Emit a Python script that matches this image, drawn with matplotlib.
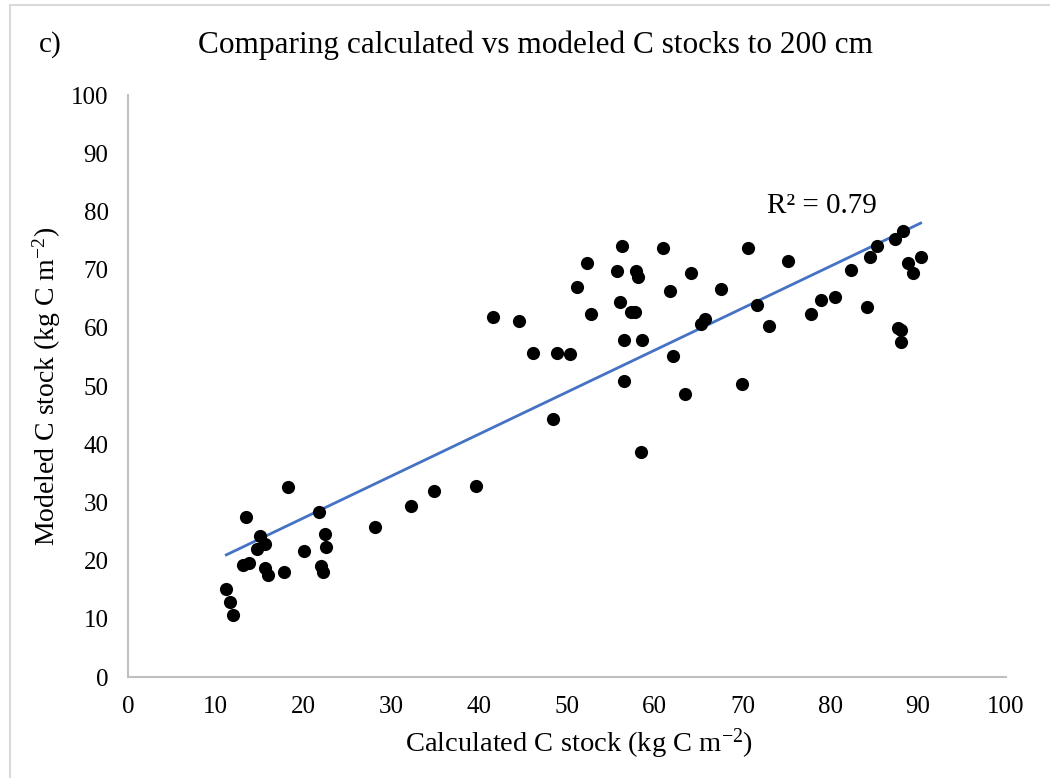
import matplotlib
matplotlib.use("Agg")
import matplotlib.pyplot as plt
import numpy as np
from matplotlib.patches import Rectangle

plt.rcParams['font.family'] = ['Liberation Serif', 'DejaVu Serif']
plt.rcParams['mathtext.fontset'] = 'custom'
plt.rcParams['mathtext.rm'] = 'Liberation Serif'
plt.rcParams['mathtext.it'] = 'Liberation Serif:italic'

# calculated vs modeled C stock (kg C m-2)
calculated = [11.2, 11.6, 12.0, 13.1, 13.4, 13.8, 14.7, 15.0, 15.6, 15.6,
              16.0, 17.8, 18.2, 20.0, 21.8, 22.0, 22.2, 22.4, 22.5, 28.1,
              32.2, 34.9, 39.7, 41.6, 44.5, 46.1, 48.4, 48.9, 50.3, 51.1,
              52.3, 52.7, 55.7, 56.0, 56.3, 56.5, 56.5, 57.3, 57.8, 57.9,
              58.1, 58.4, 58.6, 60.9, 61.8, 62.1, 63.4, 64.1, 65.3, 65.7,
              67.6, 69.9, 70.6, 71.7, 73.0, 75.2, 77.8, 79.0, 80.5, 82.4,
              84.2, 84.5, 85.3, 87.4, 88.3, 88.9, 89.4, 90.3, 87.7, 88.1,
              88.1]
modeled = [15.1, 12.9, 10.7, 19.2, 27.5, 19.6, 22.0, 24.3, 22.8, 18.8,
           17.6, 18.0, 32.7, 21.6, 28.4, 19.0, 18.1, 24.5, 22.3, 25.8,
           29.4, 32.0, 32.8, 61.8, 61.2, 55.6, 44.3, 55.6, 55.5, 67.0,
           71.2, 62.4, 69.8, 64.5, 74.1, 57.9, 50.9, 62.7, 62.7, 69.8,
           68.8, 38.6, 57.9, 73.8, 66.3, 55.2, 48.7, 69.5, 60.6, 61.5,
           66.6, 50.4, 73.7, 64.0, 60.4, 71.5, 62.4, 64.7, 65.3, 70.0,
           63.5, 72.2, 74.1, 75.2, 76.7, 71.1, 69.4, 72.2, 59.9, 59.7,
           57.5]
r2_label = "R² = 0.79"

x = np.array(calculated)
y = np.array(modeled)
slope, intercept = np.polyfit(x, y, 1)
xfit = np.array([x.min(), x.max()])

fig = plt.figure(figsize=(10.5, 7.78), dpi=100)
ax = fig.add_axes([0.1219, 0.1298, 0.836, 0.748])

ax.scatter(x, y, s=90, color='black', zorder=3, linewidths=0)
ax.plot(xfit, slope * xfit + intercept, color='#4472C4', linewidth=2.0, zorder=2)
ax.text(79.0, 80.9, r2_label, fontsize=21, ha='center', va='center')

ax.set_xlim(0, 100)
ax.set_ylim(0, 100)
ax.set_xticks(range(0, 101, 10))
ax.set_yticks(range(0, 101, 10))
ax.tick_params(length=0, labelsize=18, pad=14)
for s in ['top', 'right']:
    ax.spines[s].set_visible(False)
for s in ['left', 'bottom']:
    ax.spines[s].set_color('#BFBFBF')
    ax.spines[s].set_linewidth(1.5)

ax.set_xlabel(r"Calculated C stock (kg C m$^{-2}$)", fontsize=20.5, labelpad=8)
ax.xaxis.set_label_coords(0.514, -0.085)
ax.set_ylabel(r"Modeled C stock (kg C m$^{-2}$)", fontsize=20, labelpad=6)

fig.text(535 / 1050, 1 - 45 / 778, "Comparing calculated vs modeled C stocks to 200 cm",
         fontsize=22.5, ha='center', va='center')
fig.text(50 / 1050, 1 - 45 / 778, "c)", fontsize=21, ha='center', va='center')

fig.patches.append(Rectangle((10 / 1050, -0.01), 1.0, 1 - 5 / 778 + 0.01,
                             transform=fig.transFigure, fill=False,
                             edgecolor='#D9D9D9', linewidth=1.5))

fig.savefig("out.png", dpi=100)
